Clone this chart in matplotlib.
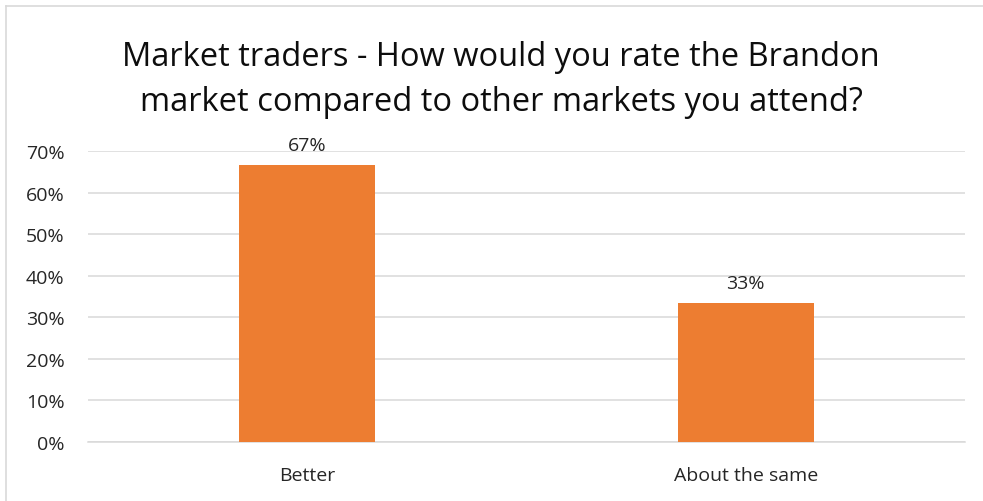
import matplotlib.pyplot as plt
from matplotlib.lines import Line2D
from matplotlib.ticker import PercentFormatter

# survey answers and their shares
categories = ['Better', 'About the same']
shares = [2 / 3, 1 / 3]
value_labels = ['67%', '33%']

plt.rcParams['font.family'] = ['Open Sans', 'DejaVu Sans']

fig = plt.figure(figsize=(9.83, 5.02), dpi=100)
ax = fig.add_axes([88 / 983, 1 - 443 / 502, 877 / 983, 291 / 502])

x = range(len(categories))
bars = ax.bar(x, shares, width=0.31, color='#ED7D31', zorder=3)
for rect, lab in zip(bars, value_labels):
    ax.annotate(lab, (rect.get_x() + rect.get_width() / 2, rect.get_height()),
                xytext=(0, 8), textcoords='offset points',
                ha='center', va='bottom', fontsize=14, color='#262626')

ax.set_xlim(-0.5, len(categories) - 0.5)
ax.set_ylim(0, 0.7)
ax.set_yticks([i / 10 for i in range(8)])
ax.yaxis.set_major_formatter(PercentFormatter(1.0, decimals=0))
ax.set_xticks(list(x))
ax.set_xticklabels(categories)
ax.tick_params(axis='y', length=0, pad=17, labelsize=14, labelcolor='#262626')
ax.tick_params(axis='x', length=0, pad=17, labelsize=14, labelcolor='#262626')
ax.grid(axis='y', color='#d9d9d9', linewidth=1.1, zorder=0)
for side in ['top', 'right', 'left']:
    ax.spines[side].set_visible(False)
ax.spines['bottom'].set_color('#d9d9d9')
ax.spines['bottom'].set_linewidth(1.1)

fig.text(501 / 983, 1 - 80 / 502, 'Market traders - How would you rate the Brandon\n'
         'market compared to other markets you attend?',
         ha='center', va='center', fontsize=23.5, color='#0d0d0d', linespacing=1.45)

# chart frame edges along the top and left
fig.add_artist(Line2D([6 / 983, 6 / 983], [0, 1 - 7 / 502], color='#d9d9d9', lw=1.2))
fig.add_artist(Line2D([6 / 983, 1], [1 - 7 / 502, 1 - 7 / 502], color='#d9d9d9', lw=1.2))

fig.savefig('out.png', dpi=100)
